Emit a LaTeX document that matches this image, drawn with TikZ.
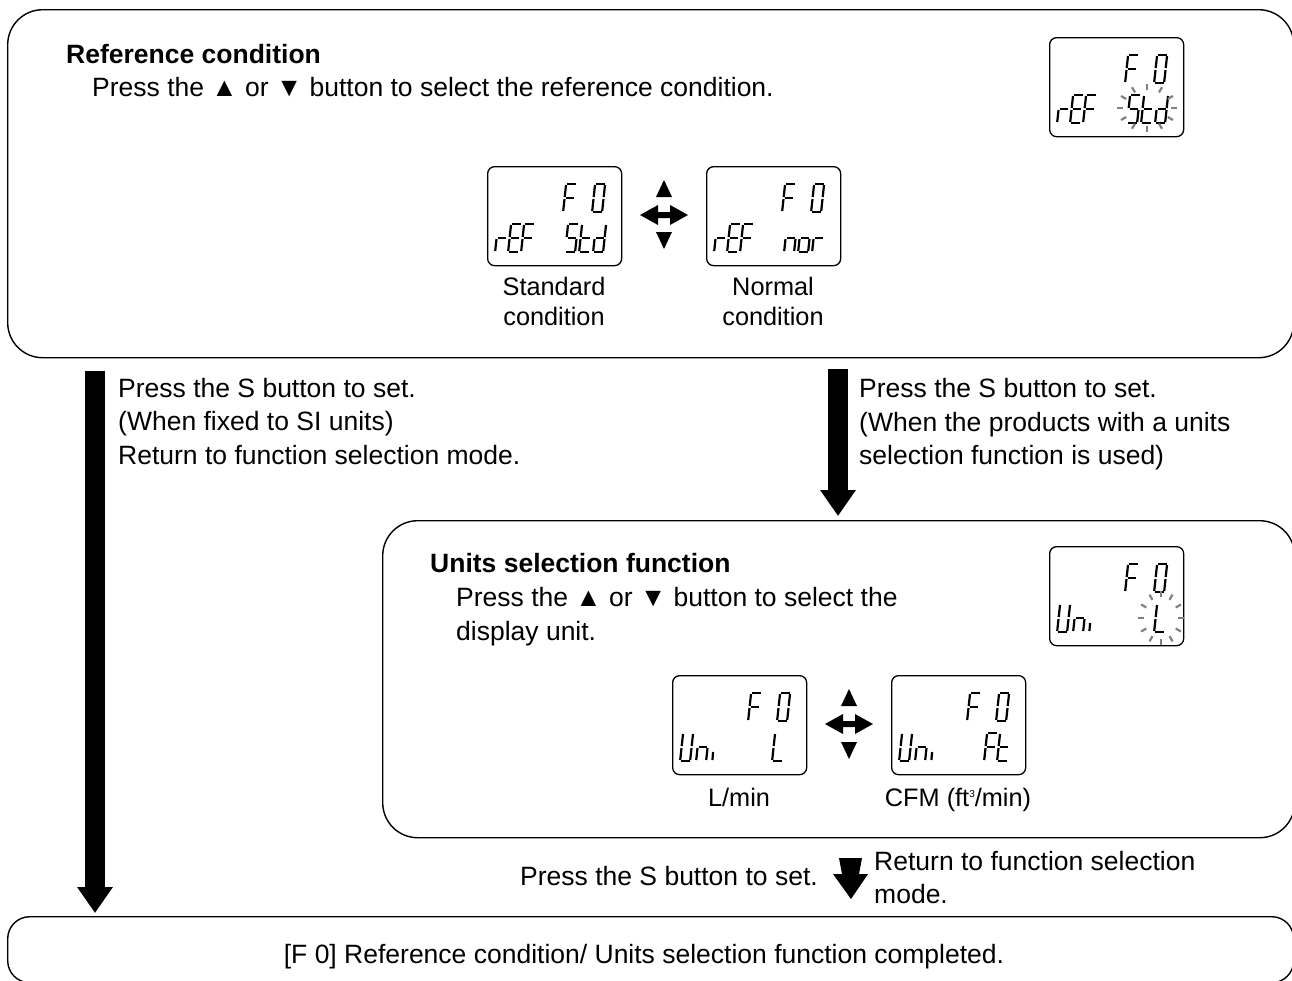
\documentclass[tikz,border=0pt]{standalone}
\usepackage{fontspec}
\setmainfont{Liberation Sans}
\usetikzlibrary{arrows.meta}
\tikzset{
  x=1pt,y=-1pt,
  txt/.style={anchor=base west,inner sep=0pt,font=\fontsize{26.5}{30}\selectfont},
  ctr/.style={anchor=base,inner sep=0pt,font=\fontsize{25.3}{29}\selectfont},
  panel/.style={draw=black,line width=1.4pt,rounded corners=#1,anchor=north west,inner sep=0pt},
  lcdframe/.style={draw=black,line width=1.3pt,rounded corners=7pt,anchor=north west,inner sep=0pt,minimum width=134pt,minimum height=99pt},
  lcdseg/.style={draw=black,line width=2.2pt,line cap=butt},
  ray/.style={draw=black!50,line width=2.2pt},
  bigarrow/.style={draw=black,line width=#1,-{Triangle[length=26pt,width=34pt]}},
  arrowfill/.style={fill=black,draw=none},
  sega/.pic={\draw[lcdseg] (4,0)--(12.5,0);},
  segb/.pic={\draw[lcdseg] (13,1)--(11.7,13);},
  segc/.pic={\draw[lcdseg] (11.5,15)--(10.2,27);},
  segd/.pic={\draw[lcdseg] (1,28)--(9.5,28);},
  sege/.pic={\draw[lcdseg] (1.5,15)--(0.2,27);},
  segf/.pic={\draw[lcdseg] (3,1)--(1.7,13);},
  segg/.pic={\draw[lcdseg] (2.5,14)--(11,14);},
  segi/.pic={\draw[lcdseg] (1.1,19)--(0.4,27);},
}
\newcommand{\glyph}[3]{\begin{scope}[shift={(#1,#2)}]\foreach \s in {#3}{\pic at (0,0) {seg\s};}\end{scope}}
\newcommand{\lcdbox}[3]{\node[lcdframe] (#1) at (#2,#3) {};
  \begin{scope}[shift={(#2,#3)}]\glyph{76}{18}{a,f,g,e}\glyph{105}{18}{a,b,c,d,e,f}\end{scope}}
\newcommand{\lcdrow}[3]{\begin{scope}[shift={(#1,#2)}]#3\end{scope}}
\newcommand{\rowref}{\glyph{8}{58}{e,g}\glyph{21}{58}{a,f,g,e,d}\glyph{34}{58}{a,f,g,e}}
\newcommand{\rowuni}{\glyph{8}{58}{b,c,d,e,f}\glyph{24}{58}{e,c,g}\glyph{40}{58}{i}}
\newcommand{\flash}[5]{\begin{scope}[shift={(#1,#2)}]\foreach \a in {0,30,...,330}{\draw[ray] (\a:#3-3 and #4-3)--(\a:#3+3 and #4+3);}\end{scope}}
\begin{document}
\begin{tikzpicture}
\useasboundingbox (0,0) rectangle (1292,980);
\node[panel=35pt,minimum width=1286pt,minimum height=348pt] (top) at (7,9) {};
\node[panel=35pt,minimum width=912pt,minimum height=317pt] (mid) at (382,520) {};
\node[panel=22pt,minimum width=1286pt,minimum height=66pt] (bot) at (7,916) {};

% top panel
\node[txt] (h1) at (66,63) {\textbf{Reference condition}};
\node[txt] (p1) at (92,96) {Press the ▲ or ▼ button to select the reference condition.};
\lcdbox{l1}{1049}{37}
\lcdrow{1049}{37}{\rowref\glyph{78}{58}{a,f,g,c,d}\glyph{92}{58}{f,e,g,d}\glyph{106}{58}{b,c,d,e,g}}
\flash{1147}{108}{27}{21}{}
\lcdbox{l2}{487}{166}
\lcdrow{487}{166}{\rowref\glyph{78}{58}{a,f,g,c,d}\glyph{92}{58}{f,e,g,d}\glyph{106}{58}{b,c,d,e,g}}
\lcdbox{l3}{706}{166}
\lcdrow{706}{166}{\rowref\glyph{78}{58}{e,c,g}\glyph{92}{58}{c,d,e,g}\glyph{106}{58}{e,g}}
\fill[arrowfill] (664,180)--(672,197)--(656,197)--cycle;
\fill[arrowfill] (664,249)--(672,232)--(656,232)--cycle;
\fill[arrowfill] (640,215)--(658,205)--(658,212)--(670,212)--(670,205)--(688,215)--(670,225)--(670,218)--(658,218)--(658,225)--cycle;
\node[ctr] (c1) at (554,295) {Standard};
\node[ctr] (c2) at (554,325) {condition};
\node[ctr] (c3) at (773,295) {Normal};
\node[ctr] (c4) at (773,325) {condition};

% connectors
\coordinate (a1s) at (95,371);
\coordinate (a1e) at (95,913);
\coordinate (a2s) at (838,369);
\coordinate (a2e) at (838,516);
\draw[bigarrow=19.5pt] (a1s) -- (a1e);
\draw[bigarrow=19.5pt] (a2s) -- (a2e);
\node[txt] (t1) at (118,397) {Press the S button to set.};
\node[txt] (t2) at (118,430) {(When fixed to SI units)};
\node[txt] (t3) at (118,464) {Return to function selection mode.};
\node[txt] (t4) at (859,397) {Press the S button to set.};
\node[txt] (t5) at (859,431) {(When the products with a units};
\node[txt] (t6) at (859,464) {selection function is used)};

% mid panel
\node[txt] (h2) at (430,572) {\textbf{Units selection function}};
\node[txt] (p2) at (456,606) {Press the ▲ or ▼ button to select the};
\node[txt] (p3) at (456,640) {display unit.};
\lcdbox{l4}{1049}{546}
\lcdrow{1049}{546}{\rowuni\glyph{105}{58}{f,e,d}}
\flash{1161}{618}{20}{24}{}
\lcdbox{l5}{672}{675}
\lcdrow{672}{675}{\rowuni\glyph{100}{58}{f,e,d}}
\lcdbox{l6}{891}{675}
\lcdrow{891}{675}{\rowuni\glyph{93}{58}{a,f,g,e}\glyph{106}{58}{f,e,g,d}}
\fill[arrowfill] (849,689)--(857,706)--(841,706)--cycle;
\fill[arrowfill] (849,759)--(857,742)--(841,742)--cycle;
\fill[arrowfill] (825,724)--(843,714)--(843,721)--(855,721)--(855,714)--(873,724)--(855,734)--(855,727)--(843,727)--(843,734)--cycle;
\node[ctr] (c5) at (739,806) {L/min};
\node[ctr] (c6) at (958,806) {CFM (ft\raisebox{9pt}{\fontsize{10}{12}\selectfont 3}/min)};

% bottom
\node[txt] (t7) at (520,885) {Press the S button to set.};
\fill[arrowfill] (839,858)--(862,858)--(859,874)--(868,874)--(851,899)--(833,874)--(842,874)--cycle;
\node[txt] (t8) at (874,870) {Return to function selection};
\node[txt] (t9) at (874,903) {mode.};
\node[anchor=base,inner sep=0pt,font=\fontsize{26.5}{30}\selectfont] (t10) at (644,963) {[F 0] Reference condition/ Units selection function completed.};
\end{tikzpicture}
\end{document}
